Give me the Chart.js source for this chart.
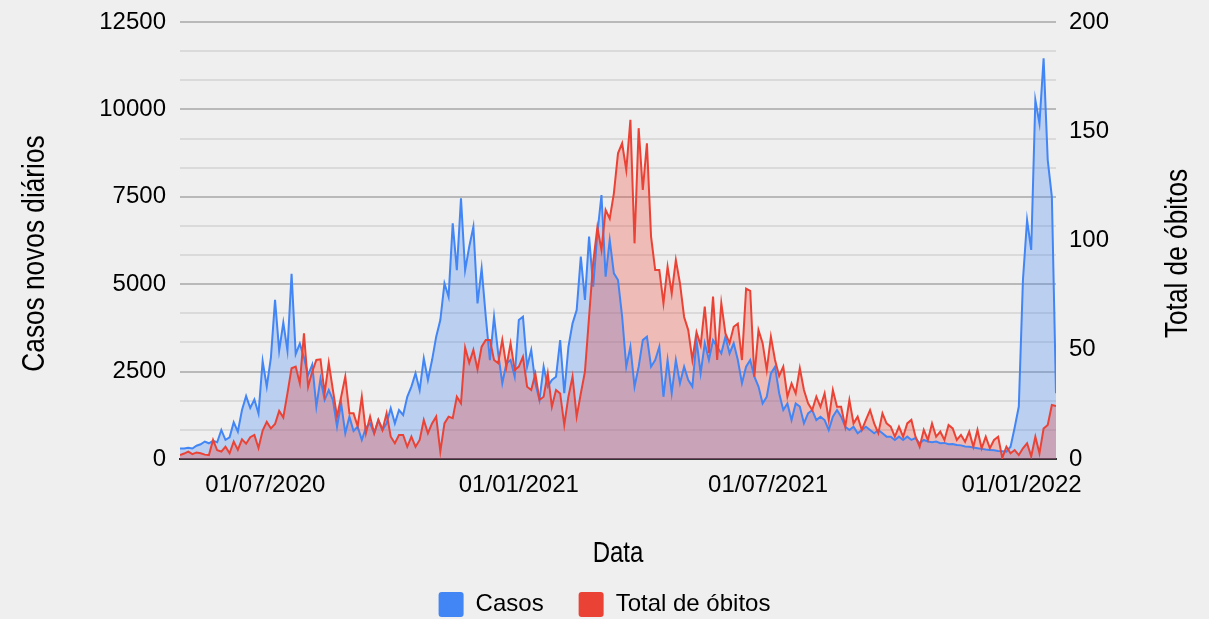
<!DOCTYPE html>
<html>
<head>
<meta charset="utf-8">
<title>Casos e óbitos</title>
<script src="https://cdn.jsdelivr.net/npm/chart.js@4.4.0/dist/chart.umd.min.js"></script>
<style>
  html, body { margin: 0; padding: 0; background: #efefef; }
  #chart { display: block; }
</style>
</head>
<body>
<canvas id="chart" width="1209" height="619"></canvas>
<script>
// one value every 3 days, starting 30/04/2020
var startDate = '2020-04-30';
var stepDays = 3;

var casos = [
  300, 300, 320, 300, 380, 420, 500, 450, 520, 480,
  830, 550, 620, 1050, 780, 1400, 1800, 1460, 1700, 1300,
  2800, 2070, 2900, 4550, 3100, 3900, 3100, 5300, 3000, 3300,
  2900, 2400, 2700, 1500, 2300, 1690, 1970, 1690, 925, 1590,
  735, 1210, 800, 925, 545, 900, 1020, 735, 1115, 830,
  1020, 1450, 1020, 1400, 1260, 1780, 2070, 2450, 1970, 2880,
  2260, 2830, 3500, 3975, 5025, 4640, 6740, 5400, 7455, 5400,
  6070, 6645, 4450, 5450, 4070, 2830, 4070, 3020, 2165, 2735,
  2830, 2355, 3975, 4070, 2640, 3120, 2165, 1690, 2640, 2070,
  2260, 2355, 3400, 1880, 3210, 3880, 4260, 5790, 4550, 6360,
  4930, 6450, 7550, 5215, 6265, 5310, 5120, 4070, 2640, 3210,
  2070, 2640, 3400, 3500, 2640, 2830, 3210, 1780, 2830, 1880,
  2830, 2165, 2640, 2260, 2070, 3400, 2450, 3310, 2830, 3400,
  3210, 3020, 3500, 3020, 3310, 2830, 2165, 2640, 2830, 2355,
  2070, 1590, 1780, 2450, 2640, 1880, 1400, 1590, 1115, 1590,
  1500, 1020, 1305, 1400, 1115, 1210, 1115, 830, 1210, 1400,
  1210, 925, 830, 925, 735, 830, 925, 830, 735, 830,
  735, 640, 640, 545, 640, 545, 640, 545, 600, 450,
  545, 500, 480, 500, 450, 460, 420, 430, 400, 390,
  360, 350, 330, 310, 290, 270, 260, 250, 230, 220,
  210, 350, 900, 1500, 5120, 6835, 5980, 10270, 9600, 11460,
  8550, 7500, 1880
];

var obitos = [
  1.8, 2.5, 3.4, 2.2, 3.0, 2.6, 2.0, 1.8, 8.7, 4.0,
  3.4, 5.6, 2.6, 8.0, 4.2, 9, 7, 10, 11, 5,
  13, 17, 14, 16, 22, 19, 30, 41.5, 42.3, 34.6,
  57.5, 33, 40, 45.3, 45.6, 30, 44, 31.6, 19.4, 28.5,
  37.7, 20.9, 20.9, 15, 28.5, 11.8, 19.4, 11.8, 17.9, 13.3,
  20.9, 10.2, 7.2, 11, 11, 5.6, 10.2, 5.6, 8.7, 17.9,
  11.8, 16.3, 19.4, 3.4, 16.3, 19.4, 18.7, 28.5, 25.5, 51,
  44, 49.9, 41, 51.4, 54.5, 54.5, 45.3, 43.8, 54.5, 42.3,
  52.9, 40.7, 42.3, 46.8, 33.1, 31.6, 39, 27, 28.5, 39.2,
  23.9, 31.6, 30, 15.6, 28.5, 37.7, 19.4, 30, 40, 65.1,
  90, 106, 95.7, 114, 110, 121.6, 139.9, 144.5, 132.3, 155.2,
  98.7, 151.4, 123.1, 144.5, 101.8, 86.5, 86.5, 71.3, 88, 75.8,
  91.1, 80.4, 65, 59, 45.3, 58, 52, 69.7, 48.4, 74.3,
  45.3, 71.3, 57.5, 53, 60.5, 62, 45.3, 78, 77, 37.7,
  59, 53, 40.7, 56, 45.3, 38, 42.3, 28.5, 34.6, 30,
  41.5, 31.6, 25.5, 22.4, 28.5, 23.9, 30, 17.9, 31.6, 23.9,
  23.9, 14.8, 27, 16.3, 19.4, 13.3, 17.9, 22.4, 16.3, 11.8,
  20.9, 16.3, 14.8, 10.2, 14.8, 10.2, 16.3, 17.9, 10.2, 5.6,
  13.3, 8.7, 16.3, 10.2, 12.5, 8.7, 15.6, 14, 8.7, 11,
  7.9, 12.5, 5.6, 13.3, 4.9, 10.2, 4.9, 8.7, 10.2, 0.5,
  5.6, 2.6, 4.1, 1.8, 4.9, 7.2, 1.2, 10.2, 2.6, 13.9,
  15.6, 24.7, 24.3
];

var tickDates = ['2020-07-01', '2021-01-01', '2021-07-01', '2022-01-01'];
var leftTicks = [0, 2500, 5000, 7500, 10000, 12500];
var rightTicks = [0, 50, 100, 150, 200];

var labelCasos = 'Casos';
var labelObitos = 'Total de óbitos';
var titleLeft = 'Casos novos diários';
var titleRight = 'Total de óbitos';
var titleBottom = 'Data';

var blue = '#4285f4';
var red = '#ea4335';
var fontFamily = '"Liberation Sans", Arial, Helvetica, sans-serif';

var DAY = 86400000;
var t0 = Date.parse(startDate + 'T00:00:00Z');

function dateToDay(s) {
  return Math.round((Date.parse(s + 'T00:00:00Z') - t0) / DAY);
}

function dayToLabel(d) {
  var t = new Date(t0 + d * DAY);
  var dd = String(t.getUTCDate()).padStart(2, '0');
  var mm = String(t.getUTCMonth() + 1).padStart(2, '0');
  return dd + '/' + mm + '/' + t.getUTCFullYear();
}

function toPoints(values) {
  return values.map(function (v, i) { return { x: i * stepDays, y: v }; });
}

var lastDay = (casos.length - 1) * stepDays;
var tickDays = tickDates.map(dateToDay);

// minor grid lines: three per major step on the left axis
var leftGrid = [];
for (var k = 0; k < leftTicks.length - 1; k++) {
  var a = leftTicks[k], b = leftTicks[k + 1];
  leftGrid.push(a, a + (b - a) / 3, a + 2 * (b - a) / 3);
}
leftGrid.push(leftTicks[leftTicks.length - 1]);

function isMajor(v) {
  return leftTicks.some(function (t) { return Math.abs(t - v) < 1e-6; });
}

// y axes: fixed width, and no extra room reserved for the top label
function fixWidth(w) {
  return function (s) {
    s.width = w;
    s.paddingTop = 0;
    s.paddingBottom = 0;
  };
}

// axis titles are drawn condensed, like the original
var axisTitles = {
  id: 'axisTitles',
  afterDraw: function (chart) {
    var ctx = chart.ctx;
    var area = chart.chartArea;
    var midY = (area.top + area.bottom) / 2 + 13;
    ctx.save();
    ctx.fillStyle = '#000';
    ctx.textAlign = 'center';
    ctx.textBaseline = 'alphabetic';
    ctx.font = '32px ' + fontFamily;

    ctx.save();
    ctx.translate(44, midY);
    ctx.rotate(-Math.PI / 2);
    ctx.scale(0.82, 1);
    ctx.fillText(titleLeft, 0, 0);
    ctx.restore();

    ctx.save();
    ctx.translate(1187, midY);
    ctx.rotate(-Math.PI / 2);
    ctx.scale(0.82, 1);
    ctx.fillText(titleRight, 0, 0);
    ctx.restore();

    ctx.save();
    ctx.font = '30px ' + fontFamily;
    ctx.translate((area.left + area.right) / 2, 562);
    ctx.scale(0.8, 1);
    ctx.fillText(titleBottom, 0, 0);
    ctx.restore();

    ctx.restore();
  }
};

Chart.defaults.font.family = fontFamily;
Chart.defaults.color = '#000';

var ctx = document.getElementById('chart').getContext('2d');
new Chart(ctx, {
  type: 'line',
  data: {
    datasets: [
      {
        label: labelCasos,
        data: toPoints(casos),
        yAxisID: 'y',
        borderColor: blue,
        backgroundColor: 'rgba(66, 133, 244, 0.3)',
        fill: 'origin',
        order: 1
      },
      {
        label: labelObitos,
        data: toPoints(obitos),
        yAxisID: 'y1',
        borderColor: red,
        backgroundColor: 'rgba(234, 67, 53, 0.3)',
        fill: 'origin',
        order: 0
      }
    ]
  },
  options: {
    responsive: false,
    animation: false,
    elements: {
      point: { radius: 0 },
      line: { borderWidth: 2, tension: 0 }
    },
    layout: { padding: { top: 22, bottom: -8, left: 0, right: 0 } },
    plugins: {
      filler: { drawTime: 'beforeDatasetsDraw' },
      tooltip: { enabled: false },
      legend: {
        position: 'bottom',
        labels: {
          boxWidth: 25,
          boxHeight: 25,
          padding: 35,
          useBorderRadius: true,
          borderRadius: 3,
          font: { size: 24 },
          color: '#222',
          generateLabels: function (chart) {
            return chart.data.datasets.map(function (ds, i) {
              return {
                text: ds.label,
                fillStyle: ds.borderColor,
                strokeStyle: ds.borderColor,
                lineWidth: 0,
                hidden: false,
                datasetIndex: i,
                borderRadius: 3
              };
            });
          }
        }
      }
    },
    scales: {
      x: {
        type: 'linear',
        min: 0,
        max: lastDay,
        grid: { display: false, drawTicks: false },
        border: { display: true, color: '#333', width: 2 },
        afterBuildTicks: function (axis) {
          axis.ticks = tickDays.map(function (d) { return { value: d }; });
        },
        ticks: {
          autoSkip: false,
          maxRotation: 0,
          padding: 12,
          font: { size: 24 },
          callback: function (v) { return dayToLabel(v); }
        },
        afterFit: function (s) { s.height = 98; }
      },
      y: {
        position: 'left',
        min: 0,
        max: leftTicks[leftTicks.length - 1],
        afterBuildTicks: function (axis) {
          axis.ticks = leftGrid.map(function (v) { return { value: v }; });
        },
        ticks: {
          autoSkip: false,
          padding: 14,
          font: { size: 24 },
          callback: function (v) { return isMajor(v) ? String(Math.round(v)) : ''; }
        },
        grid: {
          drawTicks: false,
          color: function (c) {
            if (!c.tick) return '#dadada';
            if (c.tick.value === 0) return 'rgba(0,0,0,0)';
            return isMajor(c.tick.value) ? '#b9b9b9' : '#dadada';
          },
          lineWidth: 2
        },
        border: { display: false },
        afterFit: fixWidth(180)
      },
      y1: {
        position: 'right',
        min: 0,
        max: rightTicks[rightTicks.length - 1],
        afterBuildTicks: function (axis) {
          axis.ticks = rightTicks.map(function (v) { return { value: v }; });
        },
        ticks: { padding: 13, font: { size: 24 } },
        grid: { display: false, drawTicks: false },
        border: { display: false },
        afterFit: fixWidth(153)
      }
    }
  },
  plugins: [axisTitles]
});
</script>
</body>
</html>
